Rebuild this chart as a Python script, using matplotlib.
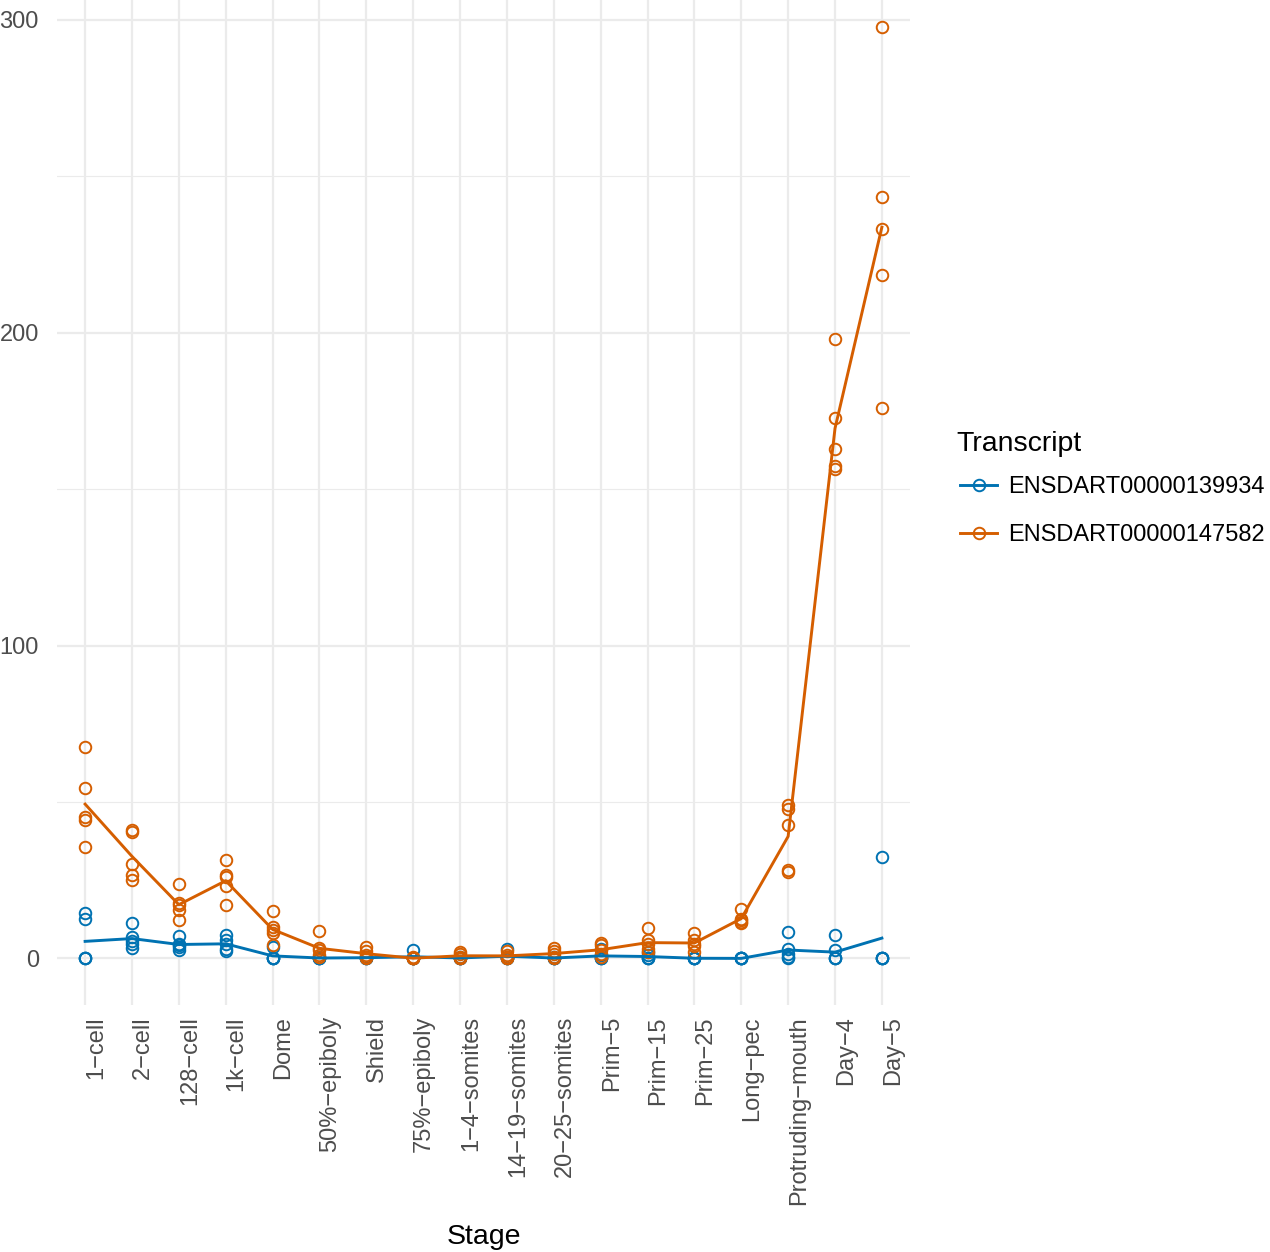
import numpy as np
import matplotlib
matplotlib.use("Agg")
import matplotlib.pyplot as plt
from matplotlib.lines import Line2D

plt.rcParams['font.family'] = ['Liberation Sans', 'DejaVu Sans']

# stages on the x axis
stages = ["1\u2212cell", "2\u2212cell", "128\u2212cell", "1k\u2212cell", "Dome",
          "50%\u2212epiboly", "Shield", "75%\u2212epiboly", "1\u22124\u2212somites",
          "14\u221219\u2212somites", "20\u221225\u2212somites", "Prim\u22125",
          "Prim\u221215", "Prim\u221225", "Long\u2212pec", "Protruding\u2212mouth",
          "Day\u22124", "Day\u22125"]

transcripts = ["ENSDART00000139934", "ENSDART00000147582"]

# replicate values per stage
tpm_139934 = [
    [14.5, 12.7, 0.0, 0.0, 0.0],
    [11.3, 6.8, 5.5, 4.7, 3.4],
    [7.1, 4.7, 4.2, 3.6, 2.6],
    [7.4, 5.8, 4.7, 3.1, 2.3],
    [3.8, 0.2, 0.0, 0.0, 0.0],
    [0.4, 0.2, 0.0, 0.0, 0.0],
    [0.6, 0.3, 0.2, 0.0, 0.0],
    [2.6, 0.0, 0.0, 0.0, 0.0],
    [0.5, 0.2, 0.0, 0.0, 0.0],
    [3.0, 0.5, 0.0, 0.0, 0.0],
    [0.4, 0.2, 0.0, 0.0, 0.0],
    [3.0, 1.0, 0.0, 0.0, 0.0],
    [2.0, 1.0, 0.0, 0.0, 0.0],
    [0.2, 0.0, 0.0, 0.0, 0.0],
    [0.0, 0.0, 0.0, 0.0, 0.0],
    [8.4, 3.1, 1.5, 0.4, 0.0],
    [7.4, 2.6, 0.0, 0.0, 0.0],
    [32.4, 0.0, 0.0, 0.0, 0.0],
]

tpm_147582 = [
    [67.5, 54.4, 45.1, 44.1, 35.5],
    [41.0, 40.3, 30.3, 26.5, 25.0],
    [23.7, 17.6, 17.0, 15.4, 12.2],
    [31.3, 26.5, 26.0, 23.3, 17.0],
    [15.1, 10.0, 9.0, 8.0, 4.2],
    [8.7, 3.4, 2.6, 1.0, 0.4],
    [3.5, 2.5, 1.2, 0.3, 0.0],
    [0.3, 0.0, 0.0, 0.0, 0.0],
    [2.2, 1.5, 0.5, 0.0, 0.0],
    [2.5, 1.0, 0.5, 0.0, 0.0],
    [3.2, 2.5, 1.5, 0.5, 0.0],
    [5.0, 4.2, 2.6, 1.5, 0.5],
    [9.6, 5.8, 4.7, 3.1, 2.0],
    [8.1, 5.8, 4.7, 4.0, 2.0],
    [15.9, 12.7, 12.2, 11.6, 11.2],
    [48.9, 47.9, 42.5, 28.1, 27.6],
    [198.0, 172.6, 162.8, 157.3, 156.4],
    [297.7, 243.4, 233.3, 218.4, 175.9],
]

colors = ["#0072B2", "#D55E00"]

fig = plt.figure(figsize=(12.7, 12.52), dpi=100)
# panel in pixel units -> figure fractions
ax = fig.add_axes([57 / 1270, (1252 - 1005) / 1252, 853 / 1270, (1005 + 19.5) / 1252])

x = np.arange(len(stages))
for vals, col in zip([tpm_139934, tpm_147582], colors):
    vals = np.asarray(vals)
    xs = np.repeat(x, vals.shape[1])
    ax.plot(xs, vals.ravel(), linestyle='none', marker='o', ms=8.3,
            mfc='none', mec=col, mew=1.4, zorder=3)
    ax.plot(x, vals.mean(axis=1), color=col, lw=2.1, zorder=4)

ax.set_xlim(-0.6, len(stages) - 0.4)
ax.set_ylim(-14.9, 312.6)
ax.set_yticks([0, 100, 200, 300])
ax.set_yticks([50, 150, 250], minor=True)
ax.set_xticks(x)
ax.set_xticklabels(stages, rotation=90, ha='right', va='top',
                   rotation_mode='anchor', fontsize=17, color='#4D4D4D')
ax.tick_params(axis='x', length=0, pad=8)
ax.tick_params(axis='y', which='both', length=0, pad=13, labelsize=17,
               labelcolor='#4D4D4D')

ax.grid(True, which='major', color='#EBEBEB', lw=1.6)
ax.grid(True, which='minor', axis='y', color='#EBEBEB', lw=0.8)
ax.set_axisbelow(True)
for s in ax.spines.values():
    s.set_visible(False)

ax.set_xlabel('Stage', fontsize=20.5, labelpad=14)
ax.set_ylabel('')

# legend: title as its own text, keys below it
fig.text(956 / 1270, 1 - 444 / 1252, 'Transcript', fontsize=20.5,
         ha='left', va='center')
handles = [Line2D([], [], color=c, lw=2.1, marker='o', ms=8.3, mfc='none',
                  mec=c, mew=1.4) for c in colors]
leg = fig.legend(handles, transcripts, loc='upper left',
                 bbox_to_anchor=(960 / 1270, 1 - 476 / 1252), frameon=False,
                 fontsize=17, handlelength=1.57,
                 handletextpad=0.47, labelspacing=1.12, borderpad=0,
                 borderaxespad=0)

fig.savefig('out.png', dpi=100)
